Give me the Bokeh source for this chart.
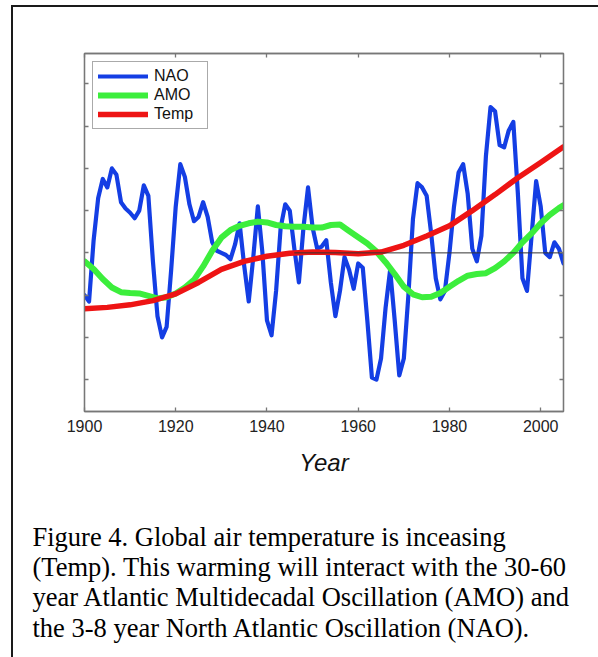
from bokeh.plotting import figure
from bokeh.models import (Range1d, LinearAxis, FixedTicker, Legend, LegendItem,
                          Title, InlineStyleSheet)
from bokeh.embed import file_html
from bokeh.resources import INLINE

# ---------------- data ----------------
nao_years = list(range(1900, 2006))
nao_values = [
    -1.0, -1.15, 0.3, 1.3, 1.75, 1.55, 2.0, 1.85, 1.2, 1.05,      # 1900-1909
    0.95, 0.82, 1.0, 1.6, 1.35, -0.2, -1.5, -2.0, -1.75, -0.4,    # 1910-1919
    1.1, 2.1, 1.8, 1.15, 0.75, 0.85, 1.2, 0.85, 0.25, 0.05,       # 1920-1929
    0.0, -0.05, -0.15, 0.2, 0.7, -0.3, -1.15, -0.1, 1.1, 0.0,     # 1930-1939
    -1.6, -1.95, -0.9, 0.6, 1.15, 1.0, 0.1, -0.7, 0.6, 1.55,      # 1940-1949
    0.6, 0.1, 0.15, 0.3, -0.7, -1.5, -0.9, -0.1, -0.4, -0.85,     # 1950-1959
    -0.25, -0.35, -1.6, -2.95, -3.0, -2.5, -1.3, -0.4, -1.6, -2.9,  # 1960-1969
    -2.5, -1.0, 0.8, 1.65, 1.55, 1.35, 0.45, -0.6, -1.1, -0.9,    # 1970-1979
    0.0, 1.1, 1.9, 2.1, 1.4, 0.1, -0.2, 0.4, 2.3, 3.45,           # 1980-1989
    3.35, 2.55, 2.5, 2.9, 3.1, 1.4, -0.6, -0.9, 0.4, 1.7,         # 1990-1999
    1.1, 0.0, -0.1, 0.25, 0.1, -0.25,                             # 2000-2005
]

amo_years = [1900, 1902, 1904, 1906, 1908, 1910, 1912, 1914, 1916, 1918,
             1920, 1922, 1924, 1926, 1928, 1930, 1932, 1934, 1936, 1938,
             1940, 1942, 1944, 1946, 1948, 1950, 1952, 1954, 1956, 1958,
             1960, 1962, 1964, 1966, 1968, 1970, 1972, 1974, 1976, 1978,
             1980, 1982, 1984, 1986, 1988, 1990, 1992, 1994, 1996, 1998,
             2000, 2002, 2004, 2005]
amo_values = [-0.2, -0.38, -0.62, -0.82, -0.93, -0.95, -0.96, -1.02, -1.08, -1.05,
              -0.96, -0.82, -0.64, -0.32, 0.05, 0.36, 0.54, 0.64, 0.70, 0.74,
              0.72, 0.66, 0.63, 0.62, 0.62, 0.60, 0.60, 0.66, 0.67, 0.52,
              0.37, 0.22, 0.03, -0.22, -0.50, -0.80, -0.98, -1.05, -1.04, -0.95,
              -0.80, -0.66, -0.54, -0.50, -0.48, -0.36, -0.20, 0.0, 0.25, 0.46,
              0.70, 0.90, 1.06, 1.13]

temp_years = [1900, 1905, 1910, 1915, 1920, 1925, 1930, 1935, 1940, 1945, 1950,
              1955, 1960, 1965, 1970, 1975, 1980, 1985, 1990, 1995, 2000, 2005]
temp_values = [-1.32, -1.29, -1.23, -1.13, -0.97, -0.70, -0.39, -0.20, -0.08, -0.01, 0.02,
               0.01, -0.02, 0.02, 0.18, 0.40, 0.64, 1.00, 1.38, 1.78, 2.14, 2.51]

zero_line_years = [1946, 2005]
zero_line_values = [0, 0]

x_ticks = [1900, 1920, 1940, 1960, 1980, 2000]
y_ticks = [-3, -2, -1, 0, 1, 2, 3, 4]

series_names = ["NAO", "AMO", "Temp"]
x_label = "Year"
caption_lines = [
    "Figure 4. Global air temperature is inceasing",
    "(Temp). This warming will interact with the 30-60",
    "year Atlantic Multidecadal Oscillation (AMO) and",
    "the 3-8 year North Atlantic Oscillation (NAO).",
]

# ---------------- styling ----------------
BLUE = "#143ee4"
GREEN = "#3cee3c"
RED = "#ee1414"
AXIS_GRAY = "#777777"
SANS = "Liberation Sans"
SERIF = "Liberation Serif"

border_css = InlineStyleSheet(css="""
:host::after {
  content: "";
  position: absolute;
  left: 11px; top: 5px;
  width: 587px; height: 652px;
  box-sizing: border-box;
  border-left: 2px solid #1a1a1a;
  border-top: 2px solid #1a1a1a;
  pointer-events: none;
}
""")

p = figure(width=598, height=657,
           x_range=Range1d(1900, 2005), y_range=Range1d(-3.755, 4.72),
           output_backend="svg", toolbar_location=None,
           min_border_left=84, min_border_right=35,
           min_border_top=53, min_border_bottom=246,
           stylesheets=[border_css])
p.xgrid.visible = False
p.ygrid.visible = False
p.outline_line_color = AXIS_GRAY
p.outline_line_width = 1.3
p.background_fill_color = "white"
p.border_fill_color = "white"

def style_axis(ax, labels):
    ax.axis_line_color = AXIS_GRAY
    ax.axis_line_width = 1.3
    ax.major_tick_line_color = AXIS_GRAY
    ax.major_tick_line_width = 1.3
    ax.major_tick_in = 4
    ax.major_tick_out = 0
    ax.minor_tick_line_color = None
    if labels:
        ax.major_label_text_font = SANS
        ax.major_label_text_font_size = "16px"
        ax.major_label_text_color = "#222222"
        ax.major_label_standoff = 8
    else:
        ax.major_label_text_font_size = "0px"
        ax.major_label_text_color = None
        ax.major_label_standoff = 0

p.xaxis.ticker = FixedTicker(ticks=x_ticks)
p.yaxis.ticker = FixedTicker(ticks=y_ticks)
style_axis(p.xaxis[0], True)
style_axis(p.yaxis[0], False)
p.xaxis.axis_label = x_label
p.xaxis.axis_label_text_font = SANS
p.xaxis.axis_label_text_font_style = "italic"
p.xaxis.axis_label_text_font_size = "24px"
p.xaxis.axis_label_text_color = "#111111"
p.xaxis.axis_label_standoff = 14

top_ax = LinearAxis(ticker=FixedTicker(ticks=x_ticks))
right_ax = LinearAxis(ticker=FixedTicker(ticks=y_ticks))
style_axis(top_ax, False)
style_axis(right_ax, False)
p.add_layout(top_ax, "above")
p.add_layout(right_ax, "right")

r_nao = p.line(nao_years, nao_values, line_color=BLUE, line_width=4.2,
               line_join="round", line_cap="round")
r_amo = p.line(amo_years, amo_values, line_color=GREEN, line_width=6,
               line_join="round", line_cap="round")
r_temp = p.line(temp_years, temp_values, line_color=RED, line_width=5.5,
                line_join="round", line_cap="round")
p.line(zero_line_years, zero_line_values, line_color="#333333", line_width=1)

legend = Legend(items=[LegendItem(label=series_names[0], renderers=[r_nao]),
                       LegendItem(label=series_names[1], renderers=[r_amo]),
                       LegendItem(label=series_names[2], renderers=[r_temp])],
                location="top_left", margin=8, padding=5, spacing=1,
                glyph_width=50, glyph_height=16, label_height=16,
                label_width=48, label_standoff=6,
                label_text_font=SANS, label_text_font_size="16px",
                label_text_color="#111111",
                border_line_color="#555555", border_line_width=1.2,
                background_fill_color="white", background_fill_alpha=1)
p.add_layout(legend, "center")

# leading blank line keeps the caption clear of the axis title
caption = Title(text="\n" + "\n".join(caption_lines), align="left", offset=-52,
                vertical_align="top", standoff=26,
                text_font=SERIF, text_font_size="26.5px", text_font_style="normal",
                text_color="#000000", text_line_height=1.01)
p.add_layout(caption, "below")

open("out.html", "w").write(file_html(p, INLINE))
